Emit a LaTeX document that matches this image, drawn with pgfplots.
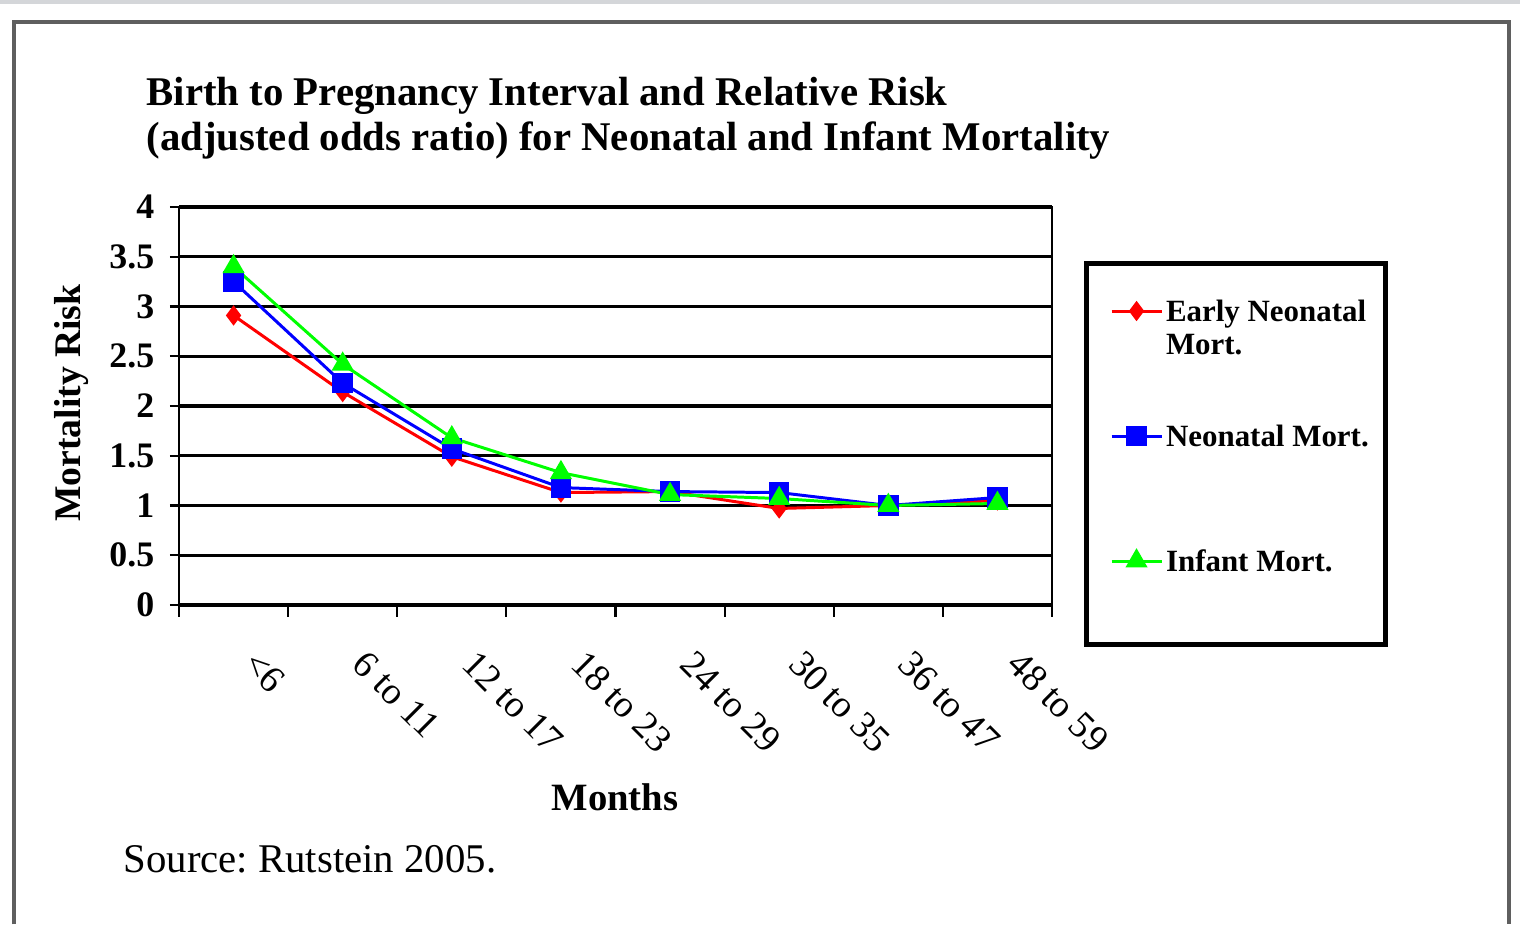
\documentclass[border=0pt]{standalone}
\usepackage{pgfplots}
\pgfplotsset{compat=1.18}
\usepackage{fontspec}
\setmainfont{Liberation Serif}
\frenchspacing
\definecolor{cred}{RGB}{255,0,0}
\definecolor{cblue}{RGB}{0,0,255}
\definecolor{cgreen}{RGB}{0,255,0}
\definecolor{band}{RGB}{212,214,217}
\definecolor{frame}{RGB}{95,95,95}
\begin{document}
\begin{tikzpicture}
\useasboundingbox (0,0) rectangle (15.21,-9.25);
\begin{scope}[x=0.01cm,y=-0.01cm]
\fill[band] (0,0) rectangle (1521,4);
\draw[line width=1.2pt, frame] (14,925) -- (14,22) -- (1510,22) -- (1510,925);
\node[anchor=west, align=left, inner sep=0pt, font=\fontsize{11.6}{12.8}\selectfont\bfseries] at (146,118)
  {Birth to Pregnancy Interval and Relative Risk\\(adjusted odds ratio) for Neonatal and Infant Mortality};
\node[anchor=west, inner sep=0pt, font=\fontsize{11.6}{13}\selectfont] at (123,860) {Source: Rutstein 2005.};
\draw[line width=1.4pt] (1087,264) rectangle (1386,645);
\end{scope}
\begin{axis}[
  at={(1.79cm,-6.05cm)}, anchor=south west,
  scale only axis, width=8.73cm, height=3.98cm,
  xmin=0.5, xmax=8.5, ymin=0, ymax=4,
  xtick={0.5,1.5,...,8.5}, xticklabels={},
  extra x ticks={1,2,3,4,5,6,7,8},
  extra x tick labels={<6, 6 to 11, 12 to 17, 18 to 23, 24 to 29, 30 to 35, 36 to 47, 48 to 59},
  extra x tick style={major tick length=0pt, grid=none},
  ytick={0,0.5,...,4},
  xtick pos=bottom, ytick pos=left,
  tick align=outside,
  major tick length=0.12cm,
  tick style={black, line width=0.6pt},
  y tick style={xshift=0.03cm},
  axis line style={black, line width=0.7pt},
  ymajorgrids, major grid style={black, line width=0.9pt},
  /pgf/number format/assume math mode=true,
  yticklabel style={font=\fontsize{10.2}{12}\selectfont\bfseries, anchor=east, inner sep=0pt, xshift=-0.12cm},
  xticklabel style={font=\fontsize{10.8}{12}\selectfont, xshift=0.26cm, yshift=-0.43cm, rotate=-45, anchor=north west, inner sep=0pt},
  xlabel={Months},
  xlabel style={at={(axis description cs:0.4994,-0.4824)}, anchor=center, font=\fontsize{11}{13}\selectfont\bfseries},
  ylabel={Mortality Risk},
  ylabel style={at={(axis description cs:-0.1226,0.5075)}, anchor=center, font=\fontsize{10.7}{13}\selectfont\bfseries},
  legend style={at={(1.0665,0.7889)}, anchor=north west, draw=none, fill=none,
    inner sep=0pt, outer sep=0pt, font=\fontsize{8.8}{9.4}\selectfont\bfseries,
    row sep=0.9cm, column sep=0.03cm, cells={anchor=base west},
    nodes={text height=0.3cm, text depth=0.05cm, inner sep=0pt}},
  legend image code/.code={\draw[yshift=0.1cm, mark indices={2}] plot coordinates {(0cm,0cm) (0.25cm,0cm) (0.5cm,0cm)};},
]
\addplot[cred, line width=0.85pt, mark=diamond*, mark size=2.2pt, mark options={solid}]
  coordinates {(1,2.91) (2,2.14) (3,1.49) (4,1.13) (5,1.14) (6,0.97) (7,1.00) (8,1.05)};
\addlegendentry{\parbox[t]{2.2cm}{Early Neonatal\\Mort.}}
\addplot[cblue, line width=0.85pt, mark=square*, mark size=2.5pt, mark options={solid}]
  coordinates {(1,3.25) (2,2.23) (3,1.57) (4,1.18) (5,1.14) (6,1.13) (7,1.00) (8,1.08)};
\addlegendentry{Neonatal Mort.}
\addplot[cgreen, line width=0.85pt, mark=triangle*, mark size=2.8pt, mark options={solid}]
  coordinates {(1,3.40) (2,2.42) (3,1.68) (4,1.33) (5,1.11) (6,1.07) (7,1.00) (8,1.02)};
\addlegendentry{Infant Mort.}
\end{axis}
\end{tikzpicture}
\end{document}
